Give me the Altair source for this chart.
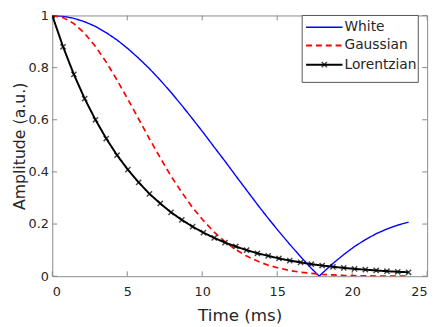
import altair as alt
import pandas as pd

# ---- data ----
t_grid = [0.0, 0.72, 1.44, 2.16, 2.88, 3.6, 4.32, 5.04, 5.76, 6.48, 7.2, 7.92,
          8.64, 9.36, 10.08, 10.8, 11.52, 12.24, 12.96, 13.68, 14.4, 15.12,
          15.84, 16.56, 17.28, 18.0, 18.72, 19.44, 20.16, 20.88, 21.6, 22.32,
          23.04, 23.76]

white_t = [0.0, 0.72, 1.44, 2.16, 2.88, 3.6, 4.32, 5.04, 5.76, 6.48, 7.2, 7.92,
           8.64, 9.36, 10.08, 10.8, 11.52, 12.24, 12.96, 13.68, 14.4, 15.12,
           15.84, 16.56, 17.28, 17.8, 18.0, 18.72, 19.44, 20.16, 20.88, 21.6,
           22.32, 23.04, 23.76]
white_v = [1.000, 0.997, 0.989, 0.976, 0.958, 0.934, 0.906, 0.873, 0.836, 0.796,
           0.752, 0.705, 0.655, 0.603, 0.550, 0.495, 0.441, 0.385, 0.330, 0.275,
           0.222, 0.171, 0.122, 0.075, 0.030, 0.000, 0.011, 0.049, 0.083, 0.114,
           0.140, 0.163, 0.181, 0.196, 0.207]

gauss_v = [1.000, 0.992, 0.969, 0.931, 0.881, 0.821, 0.752, 0.679, 0.603, 0.527,
           0.454, 0.384, 0.321, 0.263, 0.213, 0.169, 0.132, 0.102, 0.077, 0.058,
           0.042, 0.031, 0.022, 0.015, 0.011, 0.007, 0.005, 0.003, 0.002, 0.0013,
           0.0008, 0.0005, 0.0003, 0.0002]

lorentz_v = [1.000, 0.880, 0.774, 0.681, 0.600, 0.528, 0.464, 0.409, 0.360, 0.316,
             0.279, 0.245, 0.216, 0.190, 0.167, 0.147, 0.129, 0.114, 0.100, 0.088,
             0.078, 0.068, 0.060, 0.053, 0.046, 0.041, 0.036, 0.032, 0.028, 0.025,
             0.022, 0.019, 0.017, 0.015]

series_names = ["White", "Gaussian", "Lorentzian"]
series_colors = ["#0000ff", "#ff0000", "#000000"]
series_dash = [[1, 0], [6, 4], [1, 0]]
series_width = [1.4, 2.0, 2.0]
x_ticks = [0, 5, 10, 15, 20, 25]
y_ticks = [0, 0.2, 0.4, 0.6, 0.8, 1]

rows = []
for t, v in zip(white_t, white_v):
    rows.append({"t": t, "v": v, "s": "White", "o": 0})
for t, v in zip(t_grid, gauss_v):
    rows.append({"t": t, "v": v, "s": "Gaussian", "o": 1})
for t, v in zip(t_grid, lorentz_v):
    rows.append({"t": t, "v": v, "s": "Lorentzian", "o": 2})
df = pd.DataFrame(rows)
df_l = df[df.s == "Lorentzian"]
xt = pd.DataFrame({"x": x_ticks})
yt = pd.DataFrame({"y": y_ticks})

W, H = 381, 265
FONT = "DejaVu Sans"
TXT = "#262626"
GRAY = "#8a8a8a"
XMARK = "M-1,-1L1,1M-1,1L1,-1"

xs = alt.Scale(domain=[0, 25], nice=False, zero=False)
ys = alt.Scale(domain=[0, 1], nice=False)

lines = alt.Chart(df).mark_line(clip=True).encode(
    x=alt.X("t:Q", scale=xs, title="Time (ms)",
            axis=alt.Axis(values=x_ticks, ticks=False, domain=False, grid=False,
                          labelFontSize=13, labelFont=FONT, labelColor=TXT,
                          labelPadding=10, titleFont=FONT, titleFontSize=17,
                          titleFontWeight="normal", titleColor=TXT, titlePadding=9)),
    y=alt.Y("v:Q", scale=ys, title="Amplitude (a.u.)",
            axis=alt.Axis(values=y_ticks, format="~g", ticks=False, domain=False,
                          grid=False, labelFontSize=13, labelFont=FONT,
                          labelColor=TXT, labelPadding=4, titleFont=FONT,
                          titleFontSize=16, titleFontWeight="normal",
                          titleColor=TXT, titlePadding=1)),
    color=alt.Color("s:N", scale=alt.Scale(domain=series_names, range=series_colors),
                    legend=None),
    strokeDash=alt.StrokeDash("s:N", scale=alt.Scale(domain=series_names,
                              range=series_dash), legend=None),
    strokeWidth=alt.StrokeWidth("s:N", scale=alt.Scale(domain=series_names,
                                range=series_width), legend=None),
    order=alt.Order("o:Q"),
)

markers = alt.Chart(df_l).mark_point(
    shape=XMARK, filled=False, color="black",
    strokeWidth=1.5, size=28, clip=True
).encode(x=alt.X("t:Q", scale=xs), y=alt.Y("v:Q", scale=ys))

# inward ticks (MATLAB style)
tb = alt.Chart(xt).mark_rule(color=GRAY).encode(
    x=alt.X("x:Q", scale=xs), y=alt.value(H), y2=alt.value(H - 5))
tt = alt.Chart(xt).mark_rule(color=GRAY).encode(
    x=alt.X("x:Q", scale=xs), y=alt.value(0), y2=alt.value(5))
tl = alt.Chart(yt).mark_rule(color=GRAY).encode(
    y=alt.Y("y:Q", scale=ys), x=alt.value(0), x2=alt.value(5))
tr = alt.Chart(yt).mark_rule(color=GRAY).encode(
    y=alt.Y("y:Q", scale=ys), x=alt.value(W), x2=alt.value(W - 5))

# legend box (top-right, inside the axes)
LX0, LX1, LY0, LY1 = 254, 372, 0, 68
ROWS_Y = [12, 30.5, 50]
SYM_X0, SYM_X1, TXT_X = 258, 295, 297

base = alt.Chart(pd.DataFrame({"a": [0]}))
leg = [base.mark_rect(fill="white", stroke="#555", strokeWidth=1).encode(
    x=alt.value(LX0), x2=alt.value(LX1), y=alt.value(LY0), y2=alt.value(LY1))]
for i, name in enumerate(series_names):
    leg.append(base.mark_rule(color=series_colors[i], strokeDash=series_dash[i],
                              strokeWidth=series_width[i]).encode(
        x=alt.value(SYM_X0), x2=alt.value(SYM_X1), y=alt.value(ROWS_Y[i])))
    leg.append(base.mark_text(text=name, align="left", baseline="middle",
                              font=FONT, fontSize=14, color=TXT).encode(
        x=alt.value(TXT_X), y=alt.value(ROWS_Y[i])))
leg.append(base.mark_point(shape=XMARK, filled=False, color="black",
                           strokeWidth=1.5, size=28).encode(
    x=alt.value((SYM_X0 + SYM_X1) / 2), y=alt.value(ROWS_Y[2])))

chart = alt.layer(tb, tt, tl, tr, lines, markers, *leg).properties(
    width=W, height=H,
    autosize=alt.AutoSizeParams(type="none"),
    padding={"left": 45, "top": 5, "right": 8, "bottom": 47},
    background="white",
).configure_view(stroke=GRAY, strokeWidth=1)

chart.save("out.html", embed_options={"renderer": "svg", "actions": False})
